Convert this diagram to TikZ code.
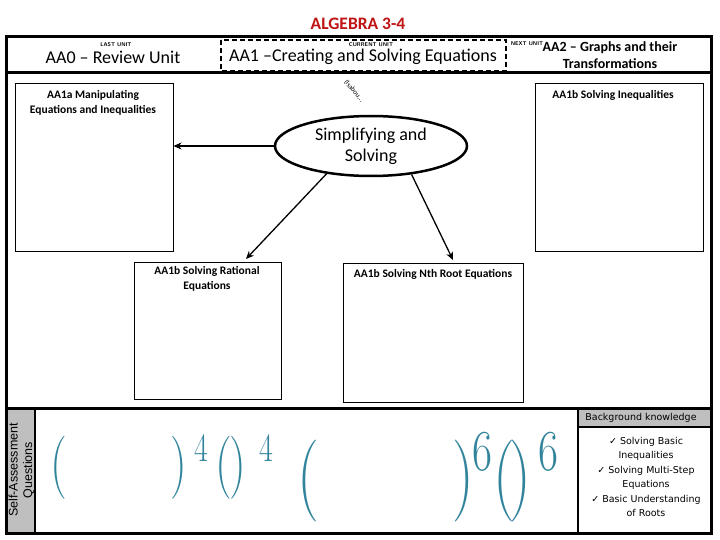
\documentclass[tikz,border=0pt]{standalone}
\usepackage{fontspec}
\setmainfont{Carlito}
\newfontfamily\tahoma{DejaVu Sans}
\newfontfamily\arialf{Liberation Sans}
\newfontfamily\lmr{Latin Modern Roman}
\usetikzlibrary{shapes.geometric,arrows.meta}
\newcommand\fsz[2]{\fontsize{#1}{#2}\selectfont}
\definecolor{titlered}{RGB}{192,20,20}
\definecolor{teal}{RGB}{49,132,155}
\definecolor{panelgray}{RGB}{191,191,191}
\begin{document}
\begin{tikzpicture}[x=1pt,y=-1pt,
  frame/.style={line width=3pt},
  box/.style={draw, line width=1pt, inner sep=0pt},
  boxtxt/.style={font=\fsz{11.5}{15}\bfseries, align=center, inner sep=0pt},
  tinylbl/.style={font=\fsz{5.5}{6}\bfseries\sffamily, inner sep=0pt},
  hdr/.style={font=\fsz{18}{20}, inner sep=0pt},
  arr/.style={line width=1.3pt, -{Stealth[length=8pt,width=7pt]}},
  paren/.style={text=teal, inner sep=0pt, xscale=0.75},
]
\useasboundingbox (0,0) rectangle (720,540);
\fill[white] (0,0) rectangle (720,540);

% title
\node[font=\fsz{17.5}{20}\bfseries, text=titlered, inner sep=0pt] (title) at (358,24) {ALGEBRA 3-4};

% outer frame
\draw[frame] (6,37) rectangle (711,533);
\draw[frame] (6,73) -- (711,73);
\draw[frame] (6,408) -- (711,408);
\draw[line width=2.5pt, dash pattern=on 5pt off 3pt] (221,40) rectangle (506,71);

% header texts
\node[tinylbl] (lastlbl) at (116,45) {LAST UNIT};
\node[hdr] (aa0) at (113,57) {AA0 – Review Unit};
\node[tinylbl] (curlbl) at (371,45) {CURRENT UNIT};
\node[hdr] (aa1) at (363,57) {AA1 –Creating and Solving Equations};
\node[tinylbl] (nextlbl) at (527,44) {NEXT UNIT};
\node[font=\fsz{14}{17}\bfseries, align=center, inner sep=0pt] (aa2) at (610,55) {AA2 – Graphs and their\\Transformations};

% boxes
\node[box, minimum width=158pt, minimum height=167pt] (aa1a) at (94,167.5) {};
\node[boxtxt] (aa1atxt) at (93,102.5) {AA1a Manipulating\\Equations and Inequalities};
\node[box, minimum width=168pt, minimum height=167pt] (ineq) at (619,167.5) {};
\node[boxtxt] (ineqtxt) at (613,95) {AA1b Solving Inequalities};
\node[box, minimum width=147pt, minimum height=137pt] (rat) at (207.5,330.5) {};
\node[boxtxt] (rattxt) at (207,279) {AA1b Solving Rational\\Equations};
\node[box, minimum width=180pt, minimum height=139pt] (nth) at (433,332.5) {};
\node[boxtxt] (nthtxt) at (433,274) {AA1b Solving Nth Root Equations};

% central ellipse
\node[ellipse, draw, line width=2.5pt, minimum width=192pt, minimum height=60pt, inner sep=0pt,
      font=\fsz{18}{21}, align=center] (ell) at (371,146) {Simplifying and\\Solving};
\node[font=\fsz{7}{8}, rotate=-50, inner sep=0pt] (note) at (354,91) {(Isabou...};

% connectors
\coordinate (ratin) at (246,259);
\coordinate (nthin) at (453,260);
\draw[arr] (ell.west) -- (ell.west -| aa1a.east);
\draw[arr] (ell.212) -- (ratin);
\draw[arr] (ell.325) -- (nthin);

% bottom section
\fill[panelgray] (7.5,409.5) rectangle (35,531.5);
\draw[line width=1.5pt] (35,409) -- (35,533);
\node[rotate=90, font=\arialf\fsz{12.5}{14.5}, align=center, inner sep=0pt] (selfq) at (21.5,470) {Self-Assessment\\Questions};

\fill[panelgray] (578,409.5) rectangle (709.5,427);
\draw[line width=1.5pt] (578,409) -- (578,533);
\draw[line width=1.5pt] (578,427) -- (711,427);
\node[font=\tahoma\fsz{9.5}{12}, inner sep=0pt] (bghead) at (641,418) {Background knowledge};
\node[font=\tahoma\fsz{9.5}{14.4}, align=center, inner sep=0pt] (bgbody) at (646,477)
  {✓ Solving Basic\\Inequalities\\✓ Solving Multi-Step\\Equations\\✓ Basic Understanding\\of Roots};

% self-assessment expressions
\node[paren, font=\lmr\fsz{63}{63}] (p1) at (59,468) {(};
\node[paren, font=\lmr\fsz{63}{63}] (p2) at (179,468) {)};
\node[paren, font=\lmr\fsz{40}{40}] (e1) at (201,448) {4};
\node[paren, font=\lmr\fsz{63}{63}] (p3) at (224,468) {(};
\node[paren, font=\lmr\fsz{63}{63}] (p4) at (238,468) {)};
\node[paren, font=\lmr\fsz{40}{40}] (e2) at (266,448) {4};
\node[paren, font=\lmr\fsz{82}{82}] (p5) at (308,481) {(};
\node[paren, font=\lmr\fsz{82}{82}] (p6) at (463,481) {)};
\node[paren, font=\lmr\fsz{58}{58}] (e3) at (482,452) {6};
\node[paren, font=\lmr\fsz{82}{82}] (p7) at (504,481) {(};
\node[paren, font=\lmr\fsz{82}{82}] (p8) at (520,481) {)};
\node[paren, font=\lmr\fsz{58}{58}] (e4) at (548,452) {6};
\end{tikzpicture}
\end{document}
